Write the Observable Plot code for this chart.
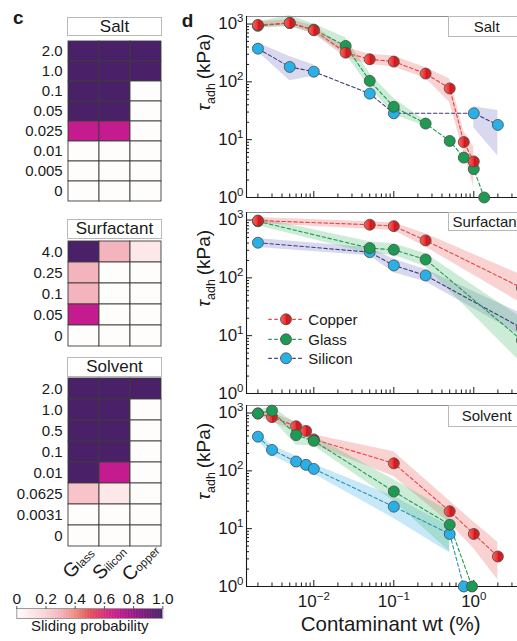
<!DOCTYPE html>
<html>
<head>
<meta charset="utf-8">
<script src="https://cdn.jsdelivr.net/npm/d3@7"></script>
<script src="https://cdn.jsdelivr.net/npm/@observablehq/plot@0.6"></script>
<style>
html,body{margin:0;padding:0;background:#fff;}
body{width:517px;height:641px;overflow:hidden;position:relative;font-family:"Liberation Sans",Arial,Helvetica,sans-serif;color:#1a1a1a;}
.pos{position:absolute;}
.pos svg{max-width:none !important;display:block;background:transparent !important;overflow:visible;}
.box{position:absolute;box-sizing:border-box;border:1px solid #b9b9b9;background:#fff;text-align:center;white-space:nowrap;overflow:hidden;color:#1a1a1a;}
.tag{position:absolute;font-weight:bold;font-size:19px;line-height:1;}
</style>
</head>
<body>
<script>
// ---------------- heatmap data (sliding probability) ----------------
const materials = ["Glass", "Silicon", "Copper"];

const saltLevels = ["2.0", "1.0", "0.1", "0.05", "0.025", "0.01", "0.005", "0"];
const saltGlass   = [1, 1, 1, 1, 0.7, 0, 0, 0];
const saltSilicon = [1, 1, 1, 1, 0.7, 0, 0, 0];
const saltCopper  = [1, 1, 0, 0, 0, 0, 0, 0];

const surfLevels = ["4.0", "0.25", "0.1", "0.05", "0"];
const surfGlass   = [1, 0.3, 0.3, 0.7, 0];
const surfSilicon = [0.3, 0, 0, 0, 0];
const surfCopper  = [0.1, 0, 0, 0, 0];

const solvLevels = ["2.0", "1.0", "0.5", "0.1", "0.01", "0.0625", "0.0031", "0"];
const solvGlass   = [1, 1, 1, 1, 1, 0.25, 0, 0];
const solvSilicon = [1, 1, 1, 1, 0.7, 0.1, 0, 0];
const solvCopper  = [1, 0, 0, 0, 0, 0, 0, 0];

const probTicks = [0, 0.2, 0.4, 0.6, 0.8, 1.0];
const colorStops = [0, 0.2, 0.3, 0.4, 0.5, 0.6, 0.7, 0.85, 1];
const colorRange = ["#fffdfc", "#f8d3d4", "#f4b4bd", "#ed8f82", "#e6505a", "#d6307a", "#c41b8e", "#85197f", "#4a2068"];

// ---------------- adhesion strength data (kPa) ----------------
// Salt
const saltCuX  = [0.002, 0.005, 0.01, 0.025, 0.05, 0.1, 0.25, 0.5, 0.75, 1.0];
const saltCuY  = [965, 1045, 780, 320, 246, 224, 139, 77, 9.1, 4.2];
const saltCuLo = [850, 930, 680, 265, 200, 180, 115, 44, 5.9, 1.5];
const saltCuHi = [1080, 1200, 930, 390, 300, 280, 175, 112, 14, 7.4];

const saltGlX  = [0.002, 0.005, 0.01, 0.025, 0.05, 0.1, 0.25, 0.5, 0.75, 1.0, 1.35];
const saltGlY  = [930, 1040, 800, 418, 104, 37, 19, 9.5, 4.9, 3.1, 1.0];
const saltGlLo = [850, 900, 680, 300, 80, 27, 17, NaN, NaN, NaN, NaN];
const saltGlHi = [1100, 1400, 1000, 580, 140, 52, 21, NaN, NaN, NaN, NaN];

const saltSiX  = [0.002, 0.005, 0.01, 0.05, 0.1, 1.0, 2.0];
const saltSiY  = [375, 181, 150, 62.5, 28.6, 28.6, 18];
const saltSiLo = [330, 105, 125, NaN, NaN, 16, 5.2];
const saltSiHi = [470, 275, 195, NaN, NaN, 37, 32];

// Surfactant
const surfCuX  = [0.002, 0.05, 0.1, 0.25, 4.0];
const surfCuY  = [980, 830, 784, 444, 67];
const surfCuLo = [870, 690, 660, 340, 36];
const surfCuHi = [1110, 930, 900, 580, 111];

const surfGlX  = [0.002, 0.05, 0.1, 0.25, 4.0];
const surfGlY  = [950, 327, 306, 208, 8.3];
const surfGlLo = [800, 263, 245, 155, 3.3];
const surfGlHi = [1100, 420, 390, 264, 20];

const surfSiX  = [0.002, 0.05, 0.1, 0.25, 4.0];
const surfSiY  = [405, 278, 164, 110, 13.5];
const surfSiLo = [335, 240, 122, 86, 10];
const surfSiHi = [480, 330, 210, 140, 24];

// Solvent
const solvCuX  = [0.002, 0.003, 0.006, 0.008, 0.01, 0.1, 0.5, 1.0, 2.0];
const solvCuY  = [980, 850, 590, 490, 350, 135, 20, 8.1, 3.3];
const solvCuLo = [880, 700, 480, 400, 280, 80, 12.5, 4.5, 1.3];
const solvCuHi = [1080, 1000, 700, 600, 420, 215, 30, 13, 5.8];

const solvGlX  = [0.002, 0.003, 0.006, 0.01, 0.1, 0.5, 0.95];
const solvGlY  = [985, 1100, 415, 330, 44, 11.7, 1.0];
const solvGlLo = [880, 800, 280, 270, 30, 4, NaN];
const solvGlHi = [1080, 1300, 650, 400, 70, 20, NaN];

const solvSiX  = [0.002, 0.003, 0.006, 0.008, 0.01, 0.1, 0.5, 0.75];
const solvSiY  = [390, 230, 145, 127, 108, 24, 8.1, 1.0];
const solvSiLo = [330, 185, 115, 100, 88, 15, 3.8, NaN];
const solvSiHi = [460, 275, 180, 155, 130, 36, 11, NaN];

// axis ticks
const yMajor = [1, 10, 100, 1000];
const yMinor = [2, 3, 4, 5, 6, 7, 8, 9, 20, 30, 40, 50, 60, 70, 80, 90, 200, 300, 400, 500, 600, 700, 800, 900];
const xMajor = [0.01, 0.1, 1];
const xMinor = [0.002, 0.003, 0.004, 0.005, 0.006, 0.007, 0.008, 0.009,
                0.02, 0.03, 0.04, 0.05, 0.06, 0.07, 0.08, 0.09,
                0.2, 0.3, 0.4, 0.5, 0.6, 0.7, 0.8, 0.9, 2, 3, 4, 5];
const X_DOMAIN = [0.00144, 5.16];
const Y_DOMAIN = [1, 1350];

// ---------------- helpers ----------------
const FONT = '"Liberation Sans", Arial, Helvetica, sans-serif';
const CU_FILL = "#e8262a";
const GL_FILL = "#1e9a52";
const SI_FILL = "#27b1e8";
const COLOR = {type: "linear", domain: colorStops, range: colorRange};

function place(node, left, top) {
  const d = document.createElement("div");
  d.className = "pos";
  d.style.left = left + "px";
  d.style.top = top + "px";
  d.appendChild(node);
  document.body.appendChild(d);
  return d;
}
function box(text, left, top, w, h, fs) {
  const d = document.createElement("div");
  d.className = "box";
  Object.assign(d.style, {left: left + "px", top: top + "px", width: w + "px", height: h + "px",
    fontSize: fs + "px", lineHeight: (h - 2) + "px"});
  d.textContent = text;
  document.body.appendChild(d);
}
function tag(text, left, top) {
  const d = document.createElement("div");
  d.className = "tag";
  d.style.left = left + "px"; d.style.top = top + "px";
  d.textContent = text;
  document.body.appendChild(d);
}
function zip(xs, ys, lo, hi) { return xs.map((x, i) => ({x, y: ys[i], lo: lo[i], hi: hi[i]})); }
const powFmt = d => "10^" + Math.round(Math.log10(d));

function richText(svg) {
  d3.select(svg).selectAll("text").each(function () {
    const el = d3.select(this);
    const t = this.textContent;
    let m;
    if ((m = /^10\^(-?\d+)$/.exec(t))) {
      el.selectAll("*").remove(); el.text(null);
      el.append("tspan").text("10");
      el.append("tspan").attr("dy", "-7px").attr("font-size", "11.5px").text(m[1].replace("-", "\u2212"));
    } else if (t === "τadh (kPa)") {
      el.selectAll("*").remove(); el.text(null);
      el.append("tspan").attr("font-style", "italic").text("τ");
      el.append("tspan").attr("dy", "5px").attr("font-size", "12.5px").text("adh");
      el.append("tspan").attr("dy", "-5px").text("\u2009(kPa)");
    } else if (materials.includes(t)) {
      el.selectAll("*").remove(); el.text(null);
      el.append("tspan").attr("font-size", "19.5px").text(t[0]);
      el.append("tspan").attr("font-size", "11.5px").text(t.slice(1));
    }
  });
}
function addGrad(svg, id) {
  const defs = d3.select(svg).insert("defs", ":first-child");
  const g = defs.append("linearGradient").attr("id", id)
    .attr("x1", "0%").attr("x2", "100%").attr("y1", "0%").attr("y2", "0%");
  [["0%", "#f4695f"], ["46%", "#ee3030"], ["54%", "#cc1a1e"], ["100%", "#d62428"]]
    .forEach(([o, c]) => g.append("stop").attr("offset", o).attr("stop-color", c));
  d3.select(svg).selectAll("g").filter(function () { return this.getAttribute("fill") === CU_FILL; })
    .attr("fill", `url(#${id})`);
  d3.select(svg).selectAll("circle").filter(function () { return this.getAttribute("fill") === CU_FILL; })
    .attr("fill", `url(#${id})`);
}

// ---------------- line panels ----------------
function linePanel({top, mb, layers, showX, gradId}) {
  const mt = 10, H = 181;
  const marks = [];
  layers.forEach(l => marks.push(Plot.areaY(l.data, {x: "x", y1: "lo", y2: "hi", fill: l.band, fillOpacity: l.bandOpacity})));
  marks.push(Plot.frame({stroke: "#8e8e8e"}));
  marks.push(Plot.ruleX([X_DOMAIN[0]], {stroke: "#1a1a1a", strokeWidth: 1.1}));
  marks.push(Plot.ruleY([Y_DOMAIN[0]], {stroke: "#1a1a1a", strokeWidth: 1.1}));
  marks.push(Plot.axisY({ticks: yMajor, tickSize: -6, fill: "none", label: null, stroke: "#1a1a1a"}));
  marks.push(Plot.axisY({ticks: yMinor, tickSize: -3, fill: "none", label: null, stroke: "#1a1a1a"}));
  marks.push(Plot.axisY({ticks: yMajor, tickSize: 0, tickPadding: 3, tickFormat: powFmt, label: null, fontSize: 17}));
  marks.push(Plot.axisX({ticks: xMajor, tickSize: -6, fill: "none", label: null, stroke: "#1a1a1a"}));
  marks.push(Plot.axisX({ticks: xMinor, tickSize: -3.5, fill: "none", label: null, stroke: "#1a1a1a"}));
  if (showX) {
    marks.push(Plot.axisX({ticks: xMajor, tickSize: 0, tickPadding: 8, tickFormat: powFmt, label: null, fontSize: 17}));
    marks.push(Plot.text(["Contaminant wt (%)"], {text: d => d, frameAnchor: "bottom", dy: 45, dx: 2, fontSize: 20.5}));
  }
  marks.push(Plot.text(["τadh (kPa)"], {text: d => d, frameAnchor: "left", dx: -42.5, dy: 4, rotate: -90, fontSize: 19}));
  layers.forEach(l => marks.push(Plot.line(l.data, {x: "x", y: "y", stroke: l.line, strokeWidth: 1.1, strokeDasharray: "3.5,2.5"})));
  layers.forEach(l => marks.push(Plot.dot(l.data, {x: "x", y: "y", r: 5.5, fill: l.fill, stroke: "#4a4a4a", strokeWidth: 0.8})));
  const svg = Plot.plot({
    width: 345.3, height: H + mt + mb,
    marginLeft: 61, marginRight: 0, marginTop: mt, marginBottom: mb,
    style: {fontFamily: FONT, fontSize: "17px", color: "#1a1a1a", background: "transparent"},
    x: {type: "log", domain: X_DOMAIN, axis: null},
    y: {type: "log", domain: Y_DOMAIN, axis: null},
    marks
  });
  richText(svg);
  addGrad(svg, gradId);
  place(svg, 184.7, top - mt);
}

const copperStyle = (data) => ({data, line: "#e5454b", fill: CU_FILL, band: "#e85c5c", bandOpacity: 0.28});
const glassStyle = (data) => ({data, line: "#1f9a52", fill: GL_FILL, band: "#4cbb70", bandOpacity: 0.28});
const siliconStyle = (data, line, band) => ({data, line, fill: SI_FILL, band, bandOpacity: 0.3});

linePanel({top: 15.7, mb: 8, gradId: "cuG1", layers: [
  siliconStyle(zip(saltSiX, saltSiY, saltSiLo, saltSiHi), "#3b3c7c", "#7d7dc8"),
  glassStyle(zip(saltGlX, saltGlY, saltGlLo, saltGlHi)),
  copperStyle(zip(saltCuX, saltCuY, saltCuLo, saltCuHi))
]});
linePanel({top: 211.7, mb: 8, gradId: "cuG2", layers: [
  siliconStyle(zip(surfSiX, surfSiY, surfSiLo, surfSiHi), "#3b3c7c", "#7d7dc8"),
  glassStyle(zip(surfGlX, surfGlY, surfGlLo, surfGlHi)),
  copperStyle(zip(surfCuX, surfCuY, surfCuLo, surfCuHi))
]});
linePanel({top: 405, mb: 54, showX: true, gradId: "cuG3", layers: [
  siliconStyle(zip(solvSiX, solvSiY, solvSiLo, solvSiHi), "#2e8fb8", "#45b6e6"),
  copperStyle(zip(solvCuX, solvCuY, solvCuLo, solvCuHi)),
  glassStyle(zip(solvGlX, solvGlY, solvGlLo, solvGlHi))
]});

box("Salt", 447.7, 15.7, 78, 21.6, 15);
box("Surfactant", 447.7, 211.7, 78, 19.6, 15);
box("Solvent", 447.7, 405, 78, 21.6, 15);

// legend
(function () {
  const items = [["Copper", "#e5454b", CU_FILL], ["Glass", "#1f9a52", GL_FILL], ["Silicon", "#3b3c7c", SI_FILL]];
  const svg = d3.create("svg").attr("width", 120).attr("height", 62)
    .style("font-family", FONT).style("font-size", "15px");
  items.forEach(([name, line, fill], i) => {
    const y = 11.3 + [0, 20, 39][i];
    svg.append("line").attr("x1", 8.3).attr("x2", 43.3).attr("y1", y).attr("y2", y)
      .attr("stroke", line).attr("stroke-width", 1.3).attr("stroke-dasharray", "3.5,2.5");
    svg.append("circle").attr("cx", 26).attr("cy", y).attr("r", 5.5).attr("fill", fill)
      .attr("stroke", "#4a4a4a").attr("stroke-width", 0.8);
    svg.append("text").attr("x", 48.3).attr("y", y).attr("dy", "0.35em").attr("fill", "#1a1a1a").text(name);
  });
  addGrad(svg.node(), "cuGL");
  place(svg.node(), 260, 308);
})();

// ---------------- heatmaps ----------------
function heatmap({levels, cols, top, rowH, mb, showX}) {
  const data = levels.flatMap((lv, i) => materials.map((m, j) => ({level: lv, material: m, p: cols[j][i]})));
  const h = levels.length * rowH;
  const marks = [
    Plot.cell(data, {x: "material", y: "level", fill: "p", stroke: "#3d3d3d", strokeWidth: 0.9, inset: 0}),
    Plot.axisY({tickSize: 0, tickPadding: 4.5, fontSize: 15, label: null})
  ];
  if (showX) marks.push(Plot.text(materials, {x: d => d, text: d => d, frameAnchor: "bottom", dy: 20, dx: -1, rotate: -45, fontSize: 12}));
  const svg = Plot.plot({
    width: 166, height: h + 1 + mb,
    marginLeft: 66.7, marginRight: 3.7, marginTop: 1, marginBottom: mb,
    style: {fontFamily: FONT, fontSize: "15px", color: "#1a1a1a", background: "transparent"},
    x: {domain: materials, padding: 0, axis: null},
    y: {domain: levels, padding: 0, axis: null},
    color: COLOR,
    marks
  });
  richText(svg);
  place(svg, 0, top - 1);
}
heatmap({levels: saltLevels, cols: [saltGlass, saltSilicon, saltCopper], top: 37.7, rowH: 20.7, mb: 1});
heatmap({levels: surfLevels, cols: [surfGlass, surfSilicon, surfCopper], top: 240.7, rowH: 21.06, mb: 1});
heatmap({levels: solvLevels, cols: [solvGlass, solvSilicon, solvCopper], top: 378.3, rowH: 21.05, mb: 40, showX: true});

box("Salt", 66.7, 16.7, 95.6, 19.6, 17);
box("Surfactant", 66.7, 219.3, 95.6, 20, 17);
box("Solvent", 66.7, 357.3, 95.6, 19.6, 17);

// ---------------- colour bar ----------------
(function () {
  const n = 200;
  const steps = d3.range(n).map(i => i / n);
  const svg = Plot.plot({
    width: 175, height: 28 + 10 + 26,
    marginLeft: 16.3, marginRight: 12.7, marginTop: 28, marginBottom: 26,
    style: {fontFamily: FONT, fontSize: "15.5px", color: "#1a1a1a", background: "transparent"},
    x: {domain: [0, 1], axis: null},
    y: {domain: [0, 1], axis: null},
    color: COLOR,
    marks: [
      Plot.rect(steps, {x1: d => d, x2: d => Math.min(1, d + 1.6 / n), y1: d => 0, y2: d => 1, fill: d => d + 0.5 / n}),
      Plot.frame({stroke: "#9a9a9a"}),
      Plot.axisX({anchor: "top", ticks: probTicks, tickSize: 3, tickPadding: 2, stroke: "#555",
        tickFormat: d => d === 0 ? "0" : d.toFixed(1), label: null}),
      Plot.text(["Sliding probability"], {text: d => d, frameAnchor: "bottom", dy: 12, fontSize: 15})
    ]
  });
  place(svg, 0, 580.3);
})();

tag("c", 13, 8);
tag("d", 181.7, 10.6);
</script>
</body>
</html>
